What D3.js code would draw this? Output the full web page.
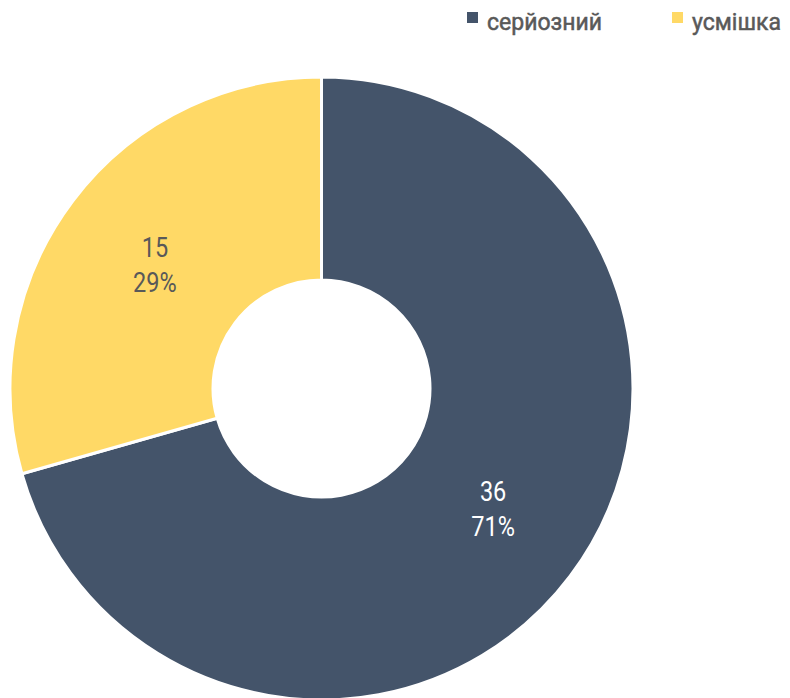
<!DOCTYPE html>
<html>
<head>
<meta charset="utf-8">
<script src="https://cdn.jsdelivr.net/npm/d3@7"></script>
<style>
  html, body { margin: 0; padding: 0; background: #fff; }
  svg { display: block; font-family: Roboto, "Noto Sans", sans-serif; }
</style>
</head>
<body>
<div id="chart"></div>
<script>
// --- дані ---
const categories = ['серйозний', 'усмішка'];
const values = [36, 15];
const colors = ['#44546A', '#FFD966'];
const labelColors = ['#ffffff', '#595959'];
// невеликий зсув підписів відносно центроїда (стиль)
const labelNudge = [[4, -6], [1, 3]];

const width = 790, height = 698;
const cx = 321.5, cy = 388.5;
const outerR = 311.5, innerR = 108.5;

const svg = d3.select('#chart').append('svg')
    .attr('width', width)
    .attr('height', height);

const total = d3.sum(values);
const data = categories.map((c, i) => ({ cat: c, value: values[i], i }));

const pie = d3.pie().value(d => d.value).sort(null);
const arc = d3.arc().innerRadius(innerR).outerRadius(outerR);

const g = svg.append('g').attr('transform', `translate(${cx},${cy})`);

const slices = g.selectAll('g.slice').data(pie(data)).enter()
    .append('g').attr('class', 'slice');

slices.append('path')
    .attr('d', arc)
    .attr('fill', d => colors[d.data.i])
    .attr('stroke', '#fff')
    .attr('stroke-width', 3)
    .attr('stroke-linejoin', 'round');

// підписи: значення та відсоток (вузький шрифт імітуємо масштабом)
const lbl = slices.append('text')
    .attr('transform', d => {
        const [x, y] = arc.centroid(d);
        const n = labelNudge[d.data.i];
        return `translate(${x + n[0]},${y + n[1]}) scale(0.87,1)`;
    })
    .attr('text-anchor', 'middle')
    .attr('fill', d => labelColors[d.data.i])
    .style('font-size', '27px');

lbl.append('tspan')
    .attr('x', 0).attr('y', -8)
    .text(d => d.data.value);
lbl.append('tspan')
    .attr('x', 0).attr('y', 27)
    .text(d => Math.round(d.data.value / total * 100) + '%');

// легенда
const legendX = [467, 672];
const legend = svg.selectAll('g.legend').data(data).enter()
    .append('g').attr('class', 'legend')
    .attr('transform', d => `translate(${legendX[d.i]},12)`);

legend.append('rect')
    .attr('width', 11).attr('height', 11)
    .attr('fill', d => colors[d.i]);

legend.append('text')
    .attr('x', 20).attr('y', 17.5)
    .attr('fill', '#595959')
    .attr('stroke', '#595959')
    .attr('stroke-width', 0.5)
    .style('font-size', '23px')
    .text(d => d.cat);
</script>
</body>
</html>
